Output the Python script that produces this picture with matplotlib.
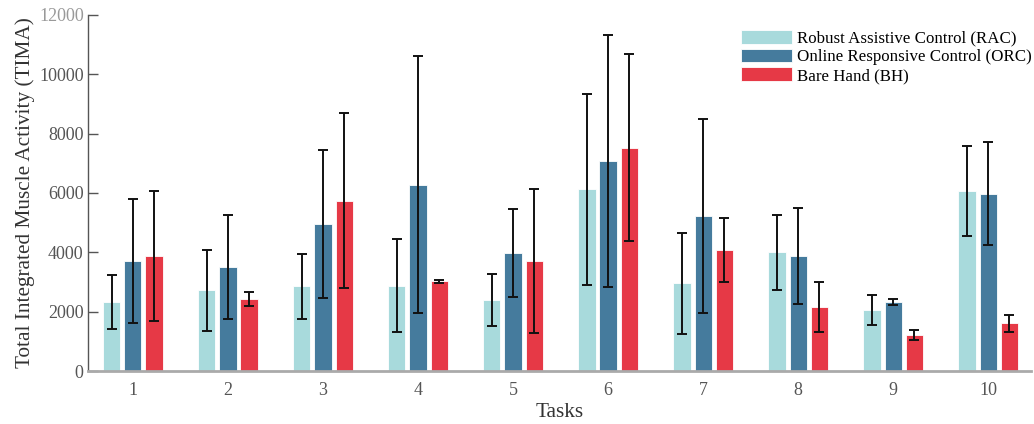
import numpy as np
import matplotlib.pyplot as plt

plt.rcParams['font.family'] = ['Liberation Serif', 'DejaVu Serif']

tasks = ['1', '2', '3', '4', '5', '6', '7', '8', '9', '10']

rac_mean = [2330, 2720, 2850, 2875, 2393, 6124, 2950, 4000, 2045, 6070]
rac_std = [900, 1365, 1100, 1557, 888, 3220, 1700, 1265, 510, 1520]

orc_mean = [3700, 3500, 4950, 6280, 3977, 7067, 5214, 3876, 2326, 5980]
orc_std = [2090, 1760, 2500, 4331, 1495, 4250, 3270, 1630, 107, 1750]

bh_mean = [3880, 2430, 5730, 3020, 3718, 7529, 4080, 2157, 1213, 1607]
bh_std = [2180, 240, 2950, 40, 2428, 3140, 1090, 843, 180, 287]

labels = ['Robust Assistive Control (RAC)', 'Online Responsive Control (ORC)', 'Bare Hand (BH)']
colors = ['#a8dadc', '#457b9d', '#e63946']

x = np.arange(1, len(tasks) + 1)
w = 0.18
off = 0.222

fig = plt.figure(figsize=(10.34, 4.24), dpi=100)
ax = fig.add_axes([0.085, 0.125, 0.912, 0.84])

means = [rac_mean, orc_mean, bh_mean]
stds = [rac_std, orc_std, bh_std]
for i in range(3):
    ax.bar(x + (i - 1) * off, means[i], w, color=colors[i], edgecolor='white',
           linewidth=0.6, label=labels[i], zorder=2)
    ax.errorbar(x + (i - 1) * off, means[i], yerr=stds[i], fmt='none', ecolor='#111111',
                elinewidth=1.4, capsize=3.7, capthick=1.4, zorder=3)

ax.set_xlim(0.526, 10.45)
ax.set_ylim(0, 12000)
ax.set_xticks(x)
ax.set_xticklabels(tasks)
ax.set_yticks([0, 2000, 4000, 6000, 8000, 10000, 12000])

ax.spines['top'].set_visible(False)
ax.spines['right'].set_visible(False)
ax.spines['left'].set_color('#555555')
ax.spines['left'].set_linewidth(1.0)
ax.spines['bottom'].set_color('#aaaaaa')
ax.spines['bottom'].set_linewidth(2.0)

ax.tick_params(axis='y', direction='in', length=7, width=1, color='#555555',
               labelcolor='#555555', labelsize=13, pad=3)
ax.tick_params(axis='x', length=0, labelcolor='#555555', labelsize=13, pad=8)
ax.get_yticklabels()[-1].set_color('#999999')

ax.set_xlabel('Tasks', fontsize=15.3, color='#333333', labelpad=3)
ax.set_ylabel('Total Integrated Muscle Activity (TIMA)', fontsize=15.3, color='#333333', labelpad=3)

ax.legend(loc='upper right', bbox_to_anchor=(1.017, 1.0), frameon=False, fontsize=12.2,
          handlelength=3.0, handleheight=0.85, labelspacing=0.12, handletextpad=0.3)

fig.savefig('out.png', dpi=100)
